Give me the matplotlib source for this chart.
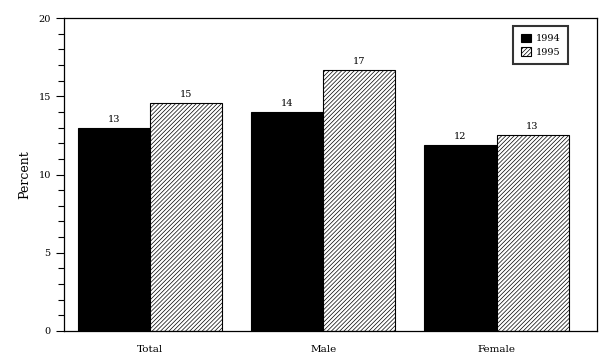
import matplotlib.pyplot as plt
import numpy as np

categories = ['Total', 'Male', 'Female']
years = ['1994', '1995']
vals_1994 = [13.0, 14.0, 11.9]
vals_1995 = [14.6, 16.7, 12.5]
labels_1994 = ['13', '14', '12']
labels_1995 = ['15', '17', '13']

plt.rcParams['font.family'] = ['DejaVu Serif']
plt.rcParams['hatch.linewidth'] = 0.5

fig = plt.figure(figsize=(6.12, 3.64), dpi=100)
ax = fig.add_axes([64/612, 1-331/364, 533/612, 313/364])

x = np.arange(len(categories))
w = 0.416
b1 = ax.bar(x - w/2, vals_1994, w, color='black', edgecolor='black', linewidth=0.8, label=years[0])
b2 = ax.bar(x + w/2, vals_1995, w, color='white', edgecolor='black', linewidth=0.8,
            hatch='////////', label=years[1])

for rect, lab in zip(b1, labels_1994):
    ax.text(rect.get_x() + rect.get_width()/2, rect.get_height() + 0.25, lab,
            ha='center', va='bottom', fontsize=7)
for rect, lab in zip(b2, labels_1995):
    ax.text(rect.get_x() + rect.get_width()/2, rect.get_height() + 0.25, lab,
            ha='center', va='bottom', fontsize=7)

ax.set_xlim(-0.497, 2.58)
ax.set_ylim(0, 20)
ax.set_yticks([0, 5, 10, 15, 20])
ax.set_yticks(np.arange(0, 21, 1), minor=True)
ax.tick_params(axis='y', which='major', length=6, labelsize=7, width=0.8)
ax.tick_params(axis='y', which='minor', length=4, width=0.8)
ax.set_xticks(x)
ax.set_xticklabels(categories, fontsize=7.5)
ax.tick_params(axis='x', length=0, pad=10)
ax.set_ylabel('Percent', fontsize=9, labelpad=5)
for s in ax.spines.values():
    s.set_linewidth(0.9)

leg = ax.legend(loc='upper right', bbox_to_anchor=(0.955, 0.99), fontsize=7,
                fancybox=False, edgecolor='black', handlelength=1.0, handleheight=1.0,
                handletextpad=0.5, borderpad=0.8, labelspacing=0.35)
leg.get_frame().set_linewidth(1.5)

fig.savefig('out.png', dpi=100)
